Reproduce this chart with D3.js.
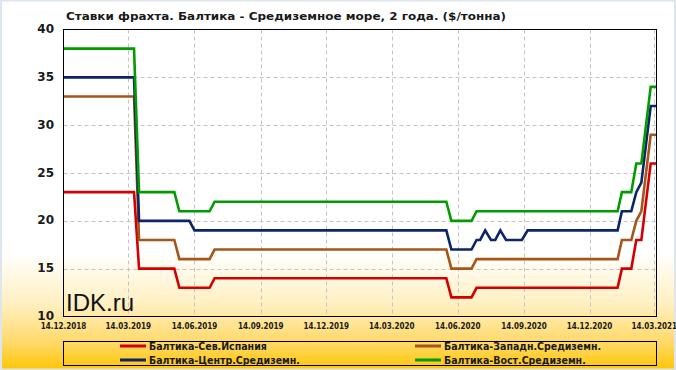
<!DOCTYPE html>
<html>
<head>
<meta charset="utf-8">
<script src="https://cdn.jsdelivr.net/npm/d3@7"></script>
<style>
  body { margin: 0; background: #fff; }
  svg { display: block; }
</style>
</head>
<body>
<div id="chart"></div>
<script>
// Data (breakpoints of each series)
var title = "Ставки фрахта. Балтика - Средиземное море, 2 года. ($/тонна)";

var dates = [
  "2018-12-14", "2019-03-22", "2019-03-29", "2019-05-17", "2019-05-24",
  "2019-06-07", "2019-06-14", "2019-07-05", "2019-07-12", "2020-05-29",
  "2020-06-05", "2020-07-03", "2020-07-10", "2020-07-15", "2020-07-22",
  "2020-07-30", "2020-08-05", "2020-08-12", "2020-08-20", "2020-09-11",
  "2020-09-19", "2021-01-22", "2021-01-28", "2021-02-10", "2021-02-17",
  "2021-02-24", "2021-03-09", "2021-03-17"
];

var seriesNames = [
  "Балтика-Сев.Испания",
  "Балтика-Западн.Средиземн.",
  "Балтика-Центр.Средиземн.",
  "Балтика-Вост.Средиземн."
];

var spainValues  = [23,23,15,15,13,13,13,13,14,14,12,12,13,13,13,13,13,13,13,13,13,13,15,15,18,18,26,26];
var westValues   = [33,33,18,18,16,16,16,16,17,17,15,15,16,16,16,16,16,16,16,16,16,16,18,18,20,21,29,29];
var centreValues = [35,35,20,20,20,20,19,19,19,19,17,17,18,18,19,18,18,19,18,18,19,19,21,21,23,24,32,32];
var eastValues   = [38,38,23,23,21,21,21,21,22,22,20,20,21,21,21,21,21,21,21,21,21,21,23,23,26,26,34,34];

var yTicks = [10, 15, 20, 25, 30, 35, 40];
var xTickLabels = [
  "14.12.2018", "14.03.2019", "14.06.2019", "14.09.2019", "14.12.2019",
  "14.03.2020", "14.06.2020", "14.09.2020", "14.12.2020", "14.03.2021"
];

var colors = ["#d20000", "#a4561b", "#0b2566", "#029c02"];

// Chart params
var svgWidth = 676;
var svgHeight = 370;
var plot = { left: 63.5, top: 29.5, right: 656.5, bottom: 316.5 };

var parseDate = d3.timeParse("%Y-%m-%d");
var parseTick = d3.timeParse("%d.%m.%Y");

var tickDates = xTickLabels.map(parseTick);

var svg = d3.select("#chart")
  .append("svg")
  .attr("width", svgWidth)
  .attr("height", svgHeight);

// background gradient (white -> gold)
var defs = svg.append("defs");
var grad = defs.append("linearGradient")
  .attr("id", "bg")
  .attr("x1", 0).attr("y1", 0)
  .attr("x2", 0).attr("y2", 1);
grad.append("stop").attr("offset", "0").attr("stop-color", "#ffffff");
grad.append("stop").attr("offset", "0.68").attr("stop-color", "#ffffff");
grad.append("stop").attr("offset", "0.82").attr("stop-color", "#fff0c2");
grad.append("stop").attr("offset", "0.93").attr("stop-color", "#ffd865");
grad.append("stop").attr("offset", "1").attr("stop-color", "#ffc600");

defs.append("clipPath")
  .attr("id", "plotClip")
  .append("rect")
  .attr("x", plot.left)
  .attr("y", plot.top)
  .attr("width", plot.right - plot.left)
  .attr("height", plot.bottom - plot.top);

svg.append("rect")
  .attr("width", svgWidth)
  .attr("height", svgHeight)
  .attr("fill", "url(#bg)");

// thin frame round the picture
svg.append("rect")
  .attr("x", 1).attr("y", 0.5)
  .attr("width", svgWidth - 2)
  .attr("height", svgHeight - 1)
  .attr("fill", "none")
  .attr("stroke", "#dde6ef")
  .attr("stroke-width", 2);

// Scales
var xScale = d3.scaleTime()
  .domain([tickDates[0], tickDates[tickDates.length - 1]])
  .range([63.5, 654.3]);

var yScale = d3.scaleLinear()
  .domain([10, 40])
  .range([plot.bottom, plot.top]);

// Grid lines
var grid = svg.append("g")
  .attr("stroke", "#c4c4c4")
  .attr("stroke-dasharray", "4,3")
  .attr("stroke-width", 1);

grid.selectAll("line.h")
  .data(yTicks.slice(1, -1))
  .enter()
  .append("line")
  .attr("x1", plot.left)
  .attr("x2", plot.right)
  .attr("y1", d => Math.round(yScale(d)) + 0.5)
  .attr("y2", d => Math.round(yScale(d)) + 0.5);

grid.selectAll("line.v")
  .data(tickDates.slice(1))
  .enter()
  .append("line")
  .attr("x1", d => Math.round(xScale(d)) + 0.5)
  .attr("x2", d => Math.round(xScale(d)) + 0.5)
  .attr("y1", plot.top)
  .attr("y2", plot.bottom);

// watermark
svg.append("text")
  .attr("x", 66)
  .attr("y", 311)
  .attr("font-family", "Liberation Sans, Arial, sans-serif")
  .attr("font-size", 24)
  .attr("fill", "#111")
  .text("IDK.ru");

// Series lines
var series = [spainValues, westValues, centreValues, eastValues].map(function(vals, i) {
  return {
    name: seriesNames[i],
    color: colors[i],
    values: vals.map(function(v, j) { return { date: parseDate(dates[j]), value: v }; })
  };
});

var line = d3.line()
  .x(d => xScale(d.date))
  .y(d => yScale(d.value));

svg.append("g")
  .attr("clip-path", "url(#plotClip)")
  .selectAll("path")
  .data(series)
  .enter()
  .append("path")
  .attr("d", d => line(d.values))
  .attr("fill", "none")
  .attr("stroke", d => d.color)
  .attr("stroke-width", 2.6)
  .attr("stroke-linejoin", "miter");

// Plot border
svg.append("rect")
  .attr("x", plot.left)
  .attr("y", plot.top)
  .attr("width", plot.right - plot.left)
  .attr("height", plot.bottom - plot.top)
  .attr("fill", "none")
  .attr("stroke", "#000")
  .attr("stroke-width", 1);

// Y labels
svg.append("g").selectAll("text")
  .data(yTicks)
  .enter()
  .append("text")
  .attr("x", 54)
  .attr("y", d => yScale(d))
  .attr("dy", "0.3em")
  .attr("text-anchor", "end")
  .attr("font-family", "DejaVu Sans, Verdana, sans-serif")
  .attr("font-weight", "bold")
  .attr("font-size", 12)
  .attr("fill", "#1a1a1a")
  .text(d => d);

// X labels
svg.append("g").selectAll("text")
  .data(tickDates)
  .enter()
  .append("text")
  .attr("x", d => xScale(d))
  .attr("y", 329)
  .attr("text-anchor", "middle")
  .attr("font-family", "DejaVu Sans Condensed, DejaVu Sans, sans-serif")
  .attr("font-weight", "bold")
  .attr("font-size", 8)
  .attr("fill", "#1a1a1a")
  .text((d, i) => xTickLabels[i]);

// Title
svg.append("text")
  .attr("x", 66)
  .attr("y", 20)
  .attr("font-family", "DejaVu Sans, Verdana, sans-serif")
  .attr("font-weight", "bold")
  .attr("font-size", 11)
  .attr("fill", "#1a1a1a")
  .attr("textLength", 440)
  .attr("lengthAdjust", "spacingAndGlyphs")
  .text(title);

// Legend
svg.append("rect")
  .attr("x", plot.left)
  .attr("y", 341.5)
  .attr("width", plot.right - plot.left)
  .attr("height", 24)
  .attr("fill", "none")
  .attr("stroke", "#000")
  .attr("stroke-width", 1);

var legendPos = [
  { x: 120, y: 346 },
  { x: 415, y: 346 },
  { x: 120, y: 360 },
  { x: 415, y: 360 }
];

var legend = svg.append("g").selectAll("g")
  .data(series)
  .enter()
  .append("g")
  .attr("transform", (d, i) => `translate(${legendPos[i].x}, ${legendPos[i].y})`);

legend.append("line")
  .attr("x1", 0)
  .attr("x2", 26)
  .attr("stroke", d => d.color)
  .attr("stroke-width", 3);

legend.append("text")
  .attr("x", 29)
  .attr("dy", "0.38em")
  .attr("font-family", "DejaVu Sans Condensed, DejaVu Sans, sans-serif")
  .attr("font-weight", "bold")
  .attr("font-size", 10.5)
  .attr("fill", "#1a1a1a")
  .text(d => d.name);
</script>
</body>
</html>
